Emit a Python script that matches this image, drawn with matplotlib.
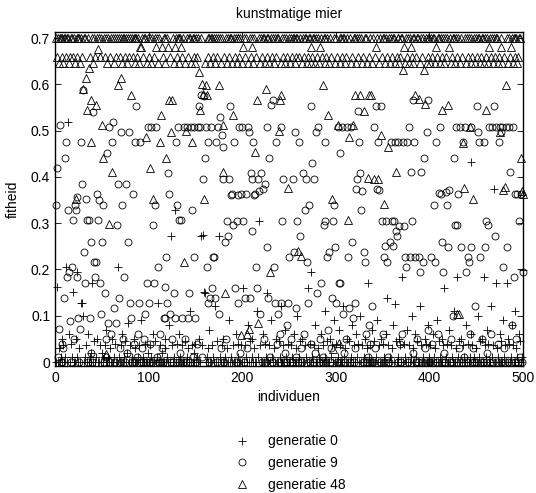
import numpy as np
import matplotlib
matplotlib.use("Agg")
import matplotlib.pyplot as plt

plt.rcParams['font.family'] = ['Liberation Sans', 'DejaVu Sans']
plt.rcParams['font.size'] = 10

# fitness of the 500 individuals (estimated)
gen0 = [
    0.0, 0.162, 0.0, 0.03, 0.0, 0.01, 0.05, 0.0, 0.037, 0.0,
    0.01, 0.205, 0.0, 0.518, 0.06, 0.0, 0.04, 0.01, 0.151, 0.0,
    0.0, 0.05, 0.01, 0.194, 0.0, 0.03, 0.0, 0.127, 0.127, 0.10,
    0.0, 0.01, 0.037, 0.0, 0.06, 0.0, 0.01, 0.0, 0.02, 0.17,
    0.0, 0.045, 0.0, 0.01, 0.05, 0.0, 0.0, 0.037, 0.0, 0.02,
    0.0, 0.01, 0.037, 0.0, 0.07, 0.0, 0.01, 0.0, 0.03, 0.0,
    0.05, 0.0, 0.01, 0.04, 0.0, 0.0, 0.205, 0.01, 0.0, 0.037,
    0.0, 0.06, 0.0, 0.01, 0.045, 0.0, 0.02, 0.084, 0.0, 0.037,
    0.0, 0.01, 0.0, 0.05, 0.0, 0.03, 0.0, 0.0, 0.01, 0.037,
    0.0, 0.09, 0.0, 0.01, 0.0, 0.04, 0.0, 0.0, 0.02, 0.0,
    0.037, 0.0, 0.01, 0.0, 0.06, 0.0, 0.045, 0.0, 0.01, 0.127,
    0.0, 0.037, 0.0, 0.02, 0.0, 0.0, 0.05, 0.03, 0.0, 0.01,
    0.0, 0.08, 0.0, 0.272, 0.037, 0.0, 0.01, 0.328, 0.0, 0.04,
    0.0, 0.06, 0.0, 0.01, 0.0, 0.037, 0.0, 0.0, 0.045, 0.0,
    0.01, 0.03, 0.0, 0.11, 0.0, 0.037, 0.0, 0.0, 0.02, 0.04,
    0.0, 0.01, 0.0, 0.05, 0.0, 0.272, 0.037, 0.274, 0.151, 0.149,
    0.0, 0.01, 0.03, 0.0, 0.07, 0.0, 0.0, 0.037, 0.01, 0.0,
    0.12, 0.0, 0.045, 0.0, 0.272, 0.01, 0.0, 0.037, 0.0, 0.05,
    0.0, 0.01, 0.0, 0.03, 0.0, 0.09, 0.0, 0.01, 0.0, 0.037,
    0.0, 0.0, 0.06, 0.0, 0.04, 0.01, 0.0, 0.0, 0.037, 0.0,
    0.16, 0.0, 0.037, 0.01, 0.0, 0.08, 0.0, 0.045, 0.0, 0.01,
    0.05, 0.0, 0.03, 0.0, 0.0, 0.11, 0.01, 0.305, 0.037, 0.0,
    0.0, 0.06, 0.0, 0.04, 0.01, 0.0, 0.149, 0.0, 0.037, 0.0,
    0.09, 0.01, 0.0, 0.03, 0.0, 0.05, 0.0, 0.0, 0.045, 0.01,
    0.0, 0.12, 0.0, 0.037, 0.0, 0.07, 0.01, 0.0, 0.04, 0.0,
    0.0, 0.037, 0.01, 0.0, 0.06, 0.0, 0.03, 0.0, 0.1, 0.0,
    0.01, 0.045, 0.0, 0.05, 0.0, 0.0, 0.037, 0.01, 0.0, 0.16,
    0.0, 0.04, 0.0, 0.194, 0.01, 0.0, 0.037, 0.08, 0.0, 0.0,
    0.03, 0.01, 0.0, 0.06, 0.0, 0.037, 0.0, 0.01, 0.11, 0.0,
    0.045, 0.0, 0.0, 0.05, 0.01, 0.037, 0.0, 0.09, 0.0, 0.04,
    0.0, 0.01, 0.07, 0.0, 0.037, 0.0, 0.0, 0.12, 0.01, 0.03,
    0.0, 0.05, 0.0, 0.045, 0.0, 0.01, 0.08, 0.0, 0.037, 0.0,
    0.0, 0.06, 0.01, 0.04, 0.0, 0.1, 0.0, 0.037, 0.0, 0.01,
    0.05, 0.0, 0.03, 0.17, 0.0, 0.01, 0.037, 0.0, 0.07, 0.0,
    0.045, 0.0, 0.01, 0.09, 0.0, 0.037, 0.0, 0.05, 0.0, 0.04,
    0.0, 0.01, 0.0, 0.06, 0.138, 0.037, 0.0, 0.01, 0.0, 0.03,
    0.08, 0.0, 0.125, 0.045, 0.0, 0.01, 0.0, 0.05, 0.037, 0.0,
    0.183, 0.0, 0.04, 0.01, 0.0, 0.07, 0.0, 0.037, 0.0, 0.01,
    0.1, 0.0, 0.03, 0.0, 0.06, 0.01, 0.045, 0.0, 0.0, 0.12,
    0.037, 0.0, 0.01, 0.0, 0.05, 0.04, 0.0, 0.0, 0.08, 0.01,
    0.037, 0.0, 0.0, 0.06, 0.01, 0.03, 0.0, 0.09, 0.0, 0.045,
    0.01, 0.0, 0.05, 0.0, 0.037, 0.16, 0.0, 0.01, 0.04, 0.0,
    0.07, 0.0, 0.037, 0.01, 0.0, 0.11, 0.0, 0.03, 0.0, 0.183,
    0.01, 0.045, 0.0, 0.05, 0.0, 0.037, 0.01, 0.0, 0.08, 0.0,
    0.04, 0.0, 0.01, 0.06, 0.432, 0.037, 0.0, 0.01, 0.0, 0.03,
    0.0, 0.1, 0.01, 0.045, 0.0, 0.05, 0.0, 0.183, 0.037, 0.01,
    0.0, 0.07, 0.04, 0.0, 0.0, 0.12, 0.01, 0.037, 0.374, 0.0,
    0.17, 0.03, 0.01, 0.0, 0.06, 0.0, 0.045, 0.0, 0.09, 0.01,
    0.037, 0.0, 0.17, 0.05, 0.04, 0.0, 0.01, 0.08, 0.037, 0.0,
    0.0, 0.11, 0.03, 0.01, 0.0, 0.06, 0.045, 0.0, 0.01, 0.198,
]

gen9 = [
    0.339, 0.419, 0.01, 0.071, 0.512, 0.0, 0.04, 0.0, 0.03, 0.138,
    0.44, 0.475, 0.183, 0.328, 0.194, 0.088, 0.0, 0.205, 0.307, 0.05,
    0.339, 0.328, 0.183, 0.356, 0.095, 0.0, 0.071, 0.475, 0.385, 0.588,
    0.238, 0.17, 0.352, 0.307, 0.0, 0.307, 0.095, 0.02, 0.26, 0.0,
    0.54, 0.216, 0.183, 0.216, 0.363, 0.307, 0.35, 0.17, 0.104, 0.26,
    0.339, 0.0, 0.149, 0.01, 0.05, 0.451, 0.084, 0.508, 0.0, 0.06,
    0.475, 0.518, 0.116, 0.0, 0.084, 0.296, 0.385, 0.138, 0.03, 0.497,
    0.0, 0.339, 0.05, 0.183, 0.0, 0.385, 0.02, 0.26, 0.497, 0.127,
    0.095, 0.0, 0.363, 0.04, 0.0, 0.475, 0.553, 0.01, 0.06, 0.127,
    0.475, 0.0, 0.03, 0.0, 0.05, 0.104, 0.0, 0.17, 0.508, 0.127,
    0.0, 0.04, 0.508, 0.0, 0.296, 0.17, 0.339, 0.508, 0.01, 0.205,
    0.0, 0.06, 0.0, 0.03, 0.0, 0.095, 0.162, 0.095, 0.227, 0.127,
    0.408, 0.363, 0.104, 0.0, 0.05, 0.0, 0.149, 0.095, 0.475, 0.339,
    0.508, 0.307, 0.0, 0.02, 0.307, 0.095, 0.0, 0.508, 0.05, 0.0,
    0.508, 0.095, 0.149, 0.0, 0.508, 0.328, 0.01, 0.508, 0.227, 0.095,
    0.0, 0.04, 0.508, 0.553, 0.508, 0.577, 0.01, 0.395, 0.575, 0.44,
    0.508, 0.205, 0.475, 0.127, 0.0, 0.138, 0.508, 0.16, 0.227, 0.227,
    0.138, 0.475, 0.0, 0.508, 0.104, 0.53, 0.03, 0.49, 0.395, 0.464,
    0.0, 0.26, 0.05, 0.305, 0.272, 0.395, 0.553, 0.36, 0.363, 0.296,
    0.475, 0.16, 0.0, 0.305, 0.127, 0.36, 0.508, 0.02, 0.363, 0.508,
    0.305, 0.0, 0.138, 0.363, 0.03, 0.508, 0.497, 0.138, 0.408, 0.395,
    0.283, 0.475, 0.36, 0.363, 0.205, 0.16, 0.395, 0.37, 0.104, 0.408,
    0.0, 0.374, 0.05, 0.385, 0.0, 0.508, 0.249, 0.138, 0.44, 0.01,
    0.555, 0.0, 0.566, 0.205, 0.127, 0.475, 0.04, 0.104, 0.0, 0.06,
    0.508, 0.127, 0.305, 0.395, 0.0, 0.02, 0.0, 0.08, 0.127, 0.227,
    0.0, 0.05, 0.0, 0.395, 0.238, 0.497, 0.116, 0.01, 0.305, 0.0,
    0.475, 0.272, 0.03, 0.0, 0.408, 0.06, 0.328, 0.395, 0.216, 0.127,
    0.339, 0.0, 0.04, 0.553, 0.43, 0.0, 0.395, 0.02, 0.497, 0.149,
    0.508, 0.0, 0.05, 0.17, 0.0, 0.01, 0.296, 0.305, 0.475, 0.0,
    0.227, 0.07, 0.238, 0.0, 0.03, 0.138, 0.305, 0.339, 0.249, 0.127,
    0.0, 0.508, 0.17, 0.17, 0.451, 0.0, 0.508, 0.104, 0.02, 0.0,
    0.05, 0.508, 0.227, 0.116, 0.0, 0.508, 0.26, 0.095, 0.0, 0.127,
    0.03, 0.374, 0.395, 0.542, 0.475, 0.408, 0.328, 0.37, 0.0, 0.238,
    0.216, 0.06, 0.0, 0.01, 0.08, 0.0, 0.04, 0.0, 0.12, 0.0,
    0.508, 0.03, 0.553, 0.374, 0.475, 0.371, 0.0, 0.553, 0.305, 0.06,
    0.227, 0.0, 0.25, 0.305, 0.216, 0.01, 0.0, 0.26, 0.475, 0.305,
    0.25, 0.305, 0.475, 0.283, 0.272, 0.0, 0.475, 0.294, 0.04, 0.0,
    0.06, 0.475, 0.294, 0.227, 0.205, 0.475, 0.0, 0.508, 0.227, 0.41,
    0.305, 0.02, 0.566, 0.475, 0.227, 0.0, 0.05, 0.0, 0.227, 0.194,
    0.41, 0.0, 0.216, 0.44, 0.03, 0.0, 0.497, 0.566, 0.07, 0.0,
    0.0, 0.227, 0.04, 0.0, 0.339, 0.216, 0.475, 0.0, 0.06, 0.365,
    0.508, 0.363, 0.26, 0.0, 0.194, 0.02, 0.0, 0.367, 0.339, 0.249,
    0.371, 0.0, 0.05, 0.0, 0.1, 0.44, 0.296, 0.508, 0.0, 0.296,
    0.363, 0.03, 0.508, 0.249, 0.0, 0.475, 0.01, 0.508, 0.194, 0.0,
    0.227, 0.216, 0.06, 0.508, 0.249, 0.0, 0.03, 0.0, 0.12, 0.0,
    0.553, 0.497, 0.475, 0.227, 0.0, 0.05, 0.0, 0.475, 0.249, 0.0,
    0.305, 0.02, 0.296, 0.508, 0.0, 0.06, 0.508, 0.0, 0.553, 0.272,
    0.508, 0.0, 0.04, 0.475, 0.508, 0.497, 0.0, 0.508, 0.205, 0.03,
    0.0, 0.508, 0.249, 0.0, 0.508, 0.41, 0.0, 0.08, 0.508, 0.183,
    0.363, 0.0, 0.05, 0.363, 0.0, 0.305, 0.01, 0.363, 0.0, 0.194,
]

gen48 = [
    0.7, 0.658, 0.7, 0.646, 0.7, 0.7, 0.658, 0.7, 0.646, 0.7,
    0.7, 0.658, 0.7, 0.7, 0.646, 0.658, 0.7, 0.7, 0.658, 0.7,
    0.646, 0.352, 0.7, 0.658, 0.7, 0.7, 0.646, 0.7, 0.658, 0.59,
    0.7, 0.7, 0.613, 0.545, 0.7, 0.635, 0.658, 0.475, 0.566, 0.7,
    0.646, 0.7, 0.658, 0.555, 0.7, 0.676, 0.7, 0.658, 0.7, 0.512,
    0.44, 0.7, 0.658, 0.017, 0.7, 0.646, 0.7, 0.298, 0.658, 0.7,
    0.41, 0.7, 0.646, 0.7, 0.658, 0.7, 0.598, 0.7, 0.658, 0.613,
    0.7, 0.646, 0.7, 0.7, 0.658, 0.7, 0.646, 0.7, 0.658, 0.7,
    0.577, 0.7, 0.658, 0.7, 0.646, 0.7, 0.7, 0.658, 0.7, 0.646,
    0.68, 0.68, 0.7, 0.658, 0.7, 0.7, 0.486, 0.646, 0.7, 0.658,
    0.7, 0.419, 0.646, 0.7, 0.352, 0.658, 0.7, 0.68, 0.7, 0.646,
    0.7, 0.475, 0.533, 0.68, 0.658, 0.7, 0.7, 0.646, 0.44, 0.7,
    0.68, 0.566, 0.658, 0.497, 0.566, 0.7, 0.646, 0.68, 0.7, 0.658,
    0.7, 0.646, 0.7, 0.7, 0.68, 0.658, 0.7, 0.216, 0.646, 0.50,
    0.7, 0.658, 0.7, 0.7, 0.646, 0.475, 0.7, 0.658, 0.7, 0.646,
    0.7, 0.658, 0.7, 0.626, 0.545, 0.7, 0.60, 0.58, 0.352, 0.646,
    0.598, 0.577, 0.7, 0.658, 0.7, 0.646, 0.7, 0.7, 0.658, 0.7,
    0.646, 0.7, 0.658, 0.7, 0.598, 0.7, 0.646, 0.7, 0.512, 0.41,
    0.658, 0.149, 0.7, 0.646, 0.7, 0.658, 0.7, 0.7, 0.646, 0.533,
    0.7, 0.658, 0.7, 0.646, 0.7, 0.7, 0.658, 0.7, 0.058, 0.646,
    0.68, 0.7, 0.658, 0.7, 0.06, 0.646, 0.071, 0.7, 0.658, 0.7,
    0.68, 0.646, 0.7, 0.453, 0.658, 0.566, 0.084, 0.7, 0.646, 0.7,
    0.658, 0.7, 0.7, 0.646, 0.59, 0.658, 0.7, 0.7, 0.646, 0.194,
    0.7, 0.658, 0.7, 0.646, 0.7, 0.658, 0.7, 0.7, 0.50, 0.566,
    0.646, 0.577, 0.7, 0.658, 0.7, 0.646, 0.7, 0.658, 0.376, 0.7,
    0.646, 0.7, 0.658, 0.7, 0.7, 0.646, 0.658, 0.7, 0.7, 0.24,
    0.658, 0.7, 0.229, 0.646, 0.7, 0.658, 0.7, 0.7, 0.646, 0.658,
    0.7, 0.7, 0.68, 0.646, 0.658, 0.7, 0.7, 0.646, 0.7, 0.658,
    0.7, 0.646, 0.68, 0.7, 0.658, 0.598, 0.7, 0.646, 0.7, 0.658,
    0.7, 0.533, 0.646, 0.7, 0.658, 0.352, 0.028, 0.7, 0.646, 0.7,
    0.658, 0.512, 0.041, 0.7, 0.646, 0.7, 0.658, 0.7, 0.7, 0.646,
    0.658, 0.7, 0.307, 0.486, 0.7, 0.646, 0.658, 0.512, 0.7, 0.7,
    0.577, 0.646, 0.7, 0.658, 0.7, 0.577, 0.7, 0.646, 0.658, 0.542,
    0.7, 0.7, 0.646, 0.397, 0.577, 0.658, 0.7, 0.577, 0.646, 0.7,
    0.395, 0.658, 0.68, 0.7, 0.395, 0.646, 0.7, 0.49, 0.658, 0.7,
    0.7, 0.341, 0.646, 0.7, 0.658, 0.464, 0.7, 0.646, 0.7, 0.658,
    0.7, 0.7, 0.646, 0.41, 0.658, 0.7, 0.7, 0.646, 0.658, 0.7,
    0.7, 0.63, 0.68, 0.646, 0.7, 0.658, 0.7, 0.646, 0.7, 0.68,
    0.658, 0.7, 0.646, 0.7, 0.577, 0.658, 0.7, 0.7, 0.568, 0.646,
    0.7, 0.658, 0.7, 0.63, 0.557, 0.7, 0.646, 0.658, 0.7, 0.7,
    0.646, 0.7, 0.658, 0.7, 0.7, 0.646, 0.68, 0.658, 0.7, 0.7,
    0.646, 0.7, 0.544, 0.658, 0.7, 0.646, 0.7, 0.658, 0.7, 0.555,
    0.68, 0.7, 0.646, 0.658, 0.7, 0.7, 0.646, 0.7, 0.104, 0.658,
    0.7, 0.104, 0.646, 0.7, 0.658, 0.473, 0.376, 0.7, 0.646, 0.7,
    0.658, 0.7, 0.508, 0.646, 0.7, 0.658, 0.352, 0.7, 0.646, 0.7,
    0.658, 0.7, 0.7, 0.646, 0.658, 0.7, 0.7, 0.646, 0.7, 0.544,
    0.658, 0.7, 0.646, 0.68, 0.7, 0.658, 0.7, 0.646, 0.7, 0.658,
    0.7, 0.7, 0.646, 0.658, 0.497, 0.68, 0.7, 0.646, 0.371, 0.658,
    0.378, 0.598, 0.7, 0.646, 0.7, 0.658, 0.68, 0.7, 0.646, 0.7,
    0.658, 0.7, 0.7, 0.646, 0.658, 0.7, 0.7, 0.44, 0.369, 0.363,
]

labels = ['generatie 0', 'generatie 9', 'generatie 48']
markers = ['+', 'o', '^']
sizes = [5.5, 5, 5.5]

individuals = np.arange(1, len(gen0) + 1)

fig = plt.figure(figsize=(5.36, 4.93), dpi=100)
ax = fig.add_axes([0.1026, 0.2576, 0.8731, 0.6775])

handles = []
for series, mk, ms in zip([gen0, gen9, gen48], markers, sizes):
    h, = ax.plot(individuals, series, linestyle='none', marker=mk, markersize=ms,
                 markerfacecolor='none', markeredgecolor='black',
                 markeredgewidth=0.6, clip_on=False)
    handles.append(h)

ax.set_xlim(0, 500)
ax.set_ylim(-0.0086, 0.713)
ax.set_xticks([0, 100, 200, 300, 400, 500])
ax.set_yticks([0, 0.1, 0.2, 0.3, 0.4, 0.5, 0.6, 0.7])
ax.set_yticklabels(['0', '0.1', '0.2', '0.3', '0.4', '0.5', '0.6', '0.7'])
ax.tick_params(direction='in', top=True, right=True, length=4, width=0.6, labelsize=10)
for s in ax.spines.values():
    s.set_linewidth(1.0)

ax.set_title('kunstmatige mier', fontsize=10, pad=10)
ax.set_xlabel('individuen', fontsize=10, labelpad=4)
ax.set_ylabel('fitheid', fontsize=10, labelpad=8)

fig.legend(handles, labels, loc='upper left', bbox_to_anchor=(0.425, 0.13),
           frameon=False, handlelength=1.2, handletextpad=1.3, labelspacing=0.55,
           fontsize=10, borderaxespad=0)

fig.savefig('out.png', dpi=100)
